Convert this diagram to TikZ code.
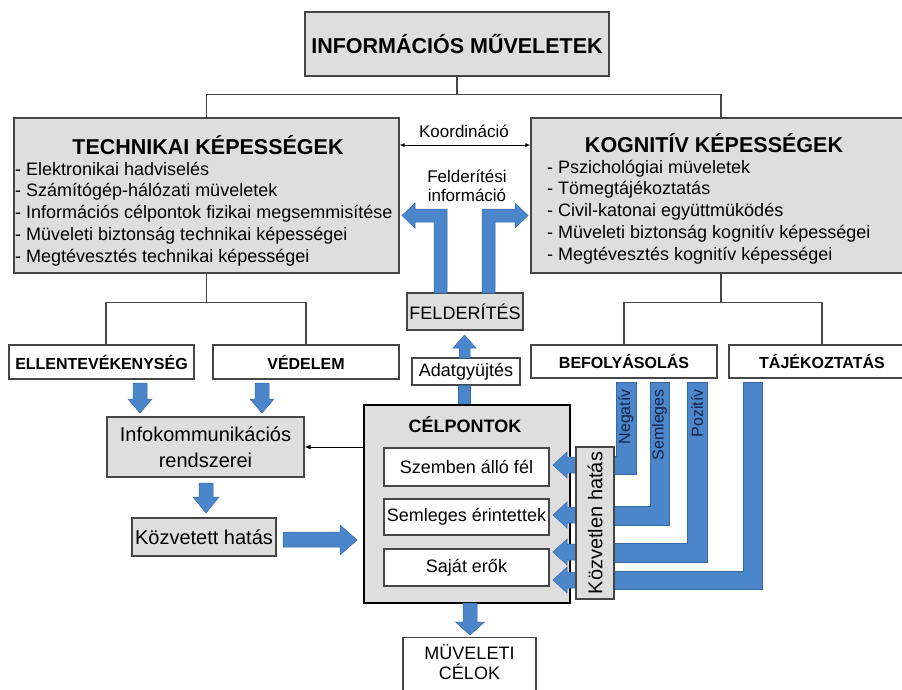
\documentclass[tikz,border=0pt]{standalone}
\usepackage{fontspec}
\setmainfont{Liberation Sans}
\usetikzlibrary{arrows.meta,calc}
\definecolor{boxgray}{RGB}{222,222,222}
\definecolor{edgegray}{RGB}{70,70,70}
\definecolor{arrblue}{RGB}{74,134,201}
\definecolor{arrblueedge}{RGB}{55,105,165}
\definecolor{navytext}{RGB}{25,35,70}
\newcommand\bluedown[6]{%
  \filldraw[bluearr] ({#1-#5},#2) -- ({#1+#5},#2) -- ({#1+#5},#3) -- ({#1+#6},#3) -- (#1,#4) -- ({#1-#6},#3) -- ({#1-#5},#3) -- cycle;}
\newcommand\bluehead[1]{%
  \filldraw[bluearr] (553,#1) -- (567,{#1-13}) -- (567,{#1-8}) -- (576,{#1-8}) -- (576,{#1+8}) -- (567,{#1+8}) -- (567,{#1+13}) -- cycle;}
\begin{document}
\begin{tikzpicture}[x=1pt,y=-1pt,
  gbox/.style={draw=edgegray,line width=1.2pt,fill=boxgray,inner sep=0pt},
  wbox/.style={draw=edgegray,line width=1.2pt,fill=white,inner sep=0pt},
  conn/.style={draw=edgegray,line width=1.1pt},
  thinarr/.style={draw=black,line width=0.9pt,-{Latex[length=6pt,width=5pt]}},
  dblarr/.style={draw=black,line width=0.9pt,{Latex[length=5pt,width=4pt]}-{Latex[length=5pt,width=4pt]}},
  bluearr/.style={fill=arrblue,draw=arrblueedge,line width=0.5pt},
  ft/.style={font=\bfseries\fontsize{21.5}{25}\selectfont},
  fb/.style={font=\bfseries\fontsize{16}{19}\selectfont},
  fn/.style={font=\fontsize{18}{21}\selectfont},
  fl/.style={font=\fontsize{18}{21.8}\selectfont,align=left,inner sep=0pt},
  fr/.style={font=\fontsize{16}{19}\selectfont,text=navytext,rotate=90,inner sep=0pt,anchor=east}]
\clip (0,0) rectangle (902,689);
\fill[white] (0,0) rectangle (902,689);

% top
\node[gbox,minimum width=304pt,minimum height=64pt,ft] (top) at (457,44) {INFORMÁCIÓS MŰVELETEK};

% capability boxes
\node[gbox,minimum width=385pt,minimum height=155pt] (tech) at (206.5,195.5) {};
\node[gbox,minimum width=380pt,minimum height=155pt] (kog) at (721,195.5) {};
\node[ft,inner sep=0pt] (techT) at (208,145) {TECHNIKAI KÉPESSÉGEK};
\node[ft,inner sep=0pt] (kogT) at (714,143) {KOGNITÍV KÉPESSÉGEK};
\node[fl,anchor=west] (techL) at (15,214) {- Elektronikai hadviselés\\- Számítógép-hálózati müveletek\\- Információs célpontok fizikai megsemmisítése\\- Müveleti biztonság technikai képességei\\- Megtévesztés technikai képességei};
\node[fl,anchor=west] (kogL) at (547,212) {- Pszichológiai müveletek\\- Tömegtájékoztatás\\- Civil-katonai együttmüködés\\- Müveleti biztonság kognitív képességei\\- Megtévesztés kognitív képességei};

\draw[conn] (top.south) -- ++(0,18) coordinate (tj);
\draw[conn] (tech.north) |- (tj) -| (kog.north);

% coordination
\coordinate (ky) at (465,145);
\draw[dblarr] (ky -| tech.east) -- (ky -| kog.west);
\node[font=\fontsize{17}{20}\selectfont,inner sep=0pt] (koord) at (464,131) {Koordináció};
\node[font=\fontsize{17}{19}\selectfont,align=center,inner sep=0pt] (finfo) at (467,186) {Felderítési\\információ};

% recon
\node[gbox,minimum width=116pt,minimum height=37pt,fn] (felder) at (465,311.5) {FELDERÍTÉS};
\node[wbox,minimum width=108pt,minimum height=27pt,fn] (adat) at (466,371.5) {Adatgyüjtés};
\filldraw[bluearr] (447,293) -- (447,209) -- (415,209) -- (415,203) -- (402,215.5) -- (415,228) -- (415,222) -- (434,222) -- (434,293) -- cycle;
\filldraw[bluearr] (482,293) -- (482,209) -- (515,209) -- (515,203) -- (528,215.5) -- (515,228) -- (515,222) -- (495,222) -- (495,293) -- cycle;
\bluedown{464.5}{358}{348}{335}{5.5}{11.5}
\filldraw[bluearr] (458.5,385) rectangle (470.5,405);

% second level
\draw[conn] (tech.south) -- ++(0,29) coordinate (lj);
\draw[conn] (kog.south) -- ++(0,29) coordinate (rj);
\node[wbox,minimum width=185pt,minimum height=34pt,fb] (ellen) at (101.5,362) {ELLENTEVÉKENYSÉG};
\node[wbox,minimum width=186pt,minimum height=34pt,fb] (vedel) at (306,362) {VÉDELEM};
\node[wbox,minimum width=186pt,minimum height=33pt,fb] (befo) at (624,361.5) {BEFOLYÁSOLÁS};
\node[wbox,minimum width=186pt,minimum height=33pt,fb] (taj) at (822,361.5) {TÁJÉKOZTATÁS};
\draw[conn] ([xshift=4.5pt]ellen.north) |- (lj) -| (vedel.north);
\draw[conn] (befo.north) |- (rj) -| (taj.north);

% left chain
\bluedown{140}{383}{399}{413}{7}{12}
\bluedown{262}{383}{399}{413}{7}{12}
\node[gbox,minimum width=197pt,minimum height=60pt,font=\fontsize{20}{26}\selectfont,align=center] (infok) at (205.5,447) {Infokommunikációs\\rendszerei};
\bluedown{206}{483}{497}{513}{7}{13}
\node[gbox,minimum width=144pt,minimum height=38pt,font=\fontsize{20}{24}\selectfont] (kozvet) at (204,537) {Közvetett hatás};
\filldraw[bluearr] (283,532) -- (340,532) -- (340,525) -- (357,540) -- (340,555) -- (340,547) -- (283,547) -- cycle;

% targets
\node[draw=black,line width=2pt,fill=boxgray,minimum width=206pt,minimum height=198pt,inner sep=0pt] (celp) at (467,504) {};
\node[font=\bfseries\fontsize{18}{21}\selectfont,inner sep=0pt] (celpT) at (465,425) {CÉLPONTOK};
\node[wbox,minimum width=165pt,minimum height=38pt,fn] (szemb) at (466.5,467) {Szemben álló fél};
\node[wbox,minimum width=165pt,minimum height=36pt,fn] (semle) at (466.5,517) {Semleges érintettek};
\node[wbox,minimum width=165pt,minimum height=37pt,fn] (sajat) at (466.5,567.5) {Saját erők};
\draw[thinarr] (infok.east -| celp.west) -- (infok.east);

% direct effect
\bluehead{465}
\bluehead{515}
\bluehead{552}
\bluehead{580}
\filldraw[bluearr] (616,382) -- (636,382) -- (636,474) -- (612,474) -- (612,456) -- (616,456) -- cycle;
\filldraw[bluearr] (650,382) -- (669,382) -- (669,525) -- (612,525) -- (612,506) -- (650,506) -- cycle;
\filldraw[bluearr] (687,382) -- (707,382) -- (707,562) -- (612,562) -- (612,543) -- (687,543) -- cycle;
\filldraw[bluearr] (743,382) -- (762,382) -- (762,589) -- (612,589) -- (612,571) -- (743,571) -- cycle;
\node[fr] (neg) at (626,389) {Negatív};
\node[fr] (sem) at (659.5,389) {Semleges};
\node[fr] (poz) at (697,389) {Pozitív};
\node[gbox,minimum width=38pt,minimum height=152pt] (kozvl) at (595,523) {};
\node[font=\fontsize{20}{24}\selectfont,rotate=90,inner sep=0pt] (kozvlT) at (kozvl) {Közvetlen hatás};

% operational goals
\bluedown{470}{603}{622}{635}{7}{14.5}
\node[wbox,minimum width=133pt,minimum height=70pt,anchor=north] (mc) at (469.5,637) {};
\node[fn,align=center,anchor=north,inner sep=0pt,font=\fontsize{18}{20.5}\selectfont] (mcT) at ([yshift=-7pt]mc.north) {MÜVELETI\\CÉLOK};
\end{tikzpicture}
\end{document}
